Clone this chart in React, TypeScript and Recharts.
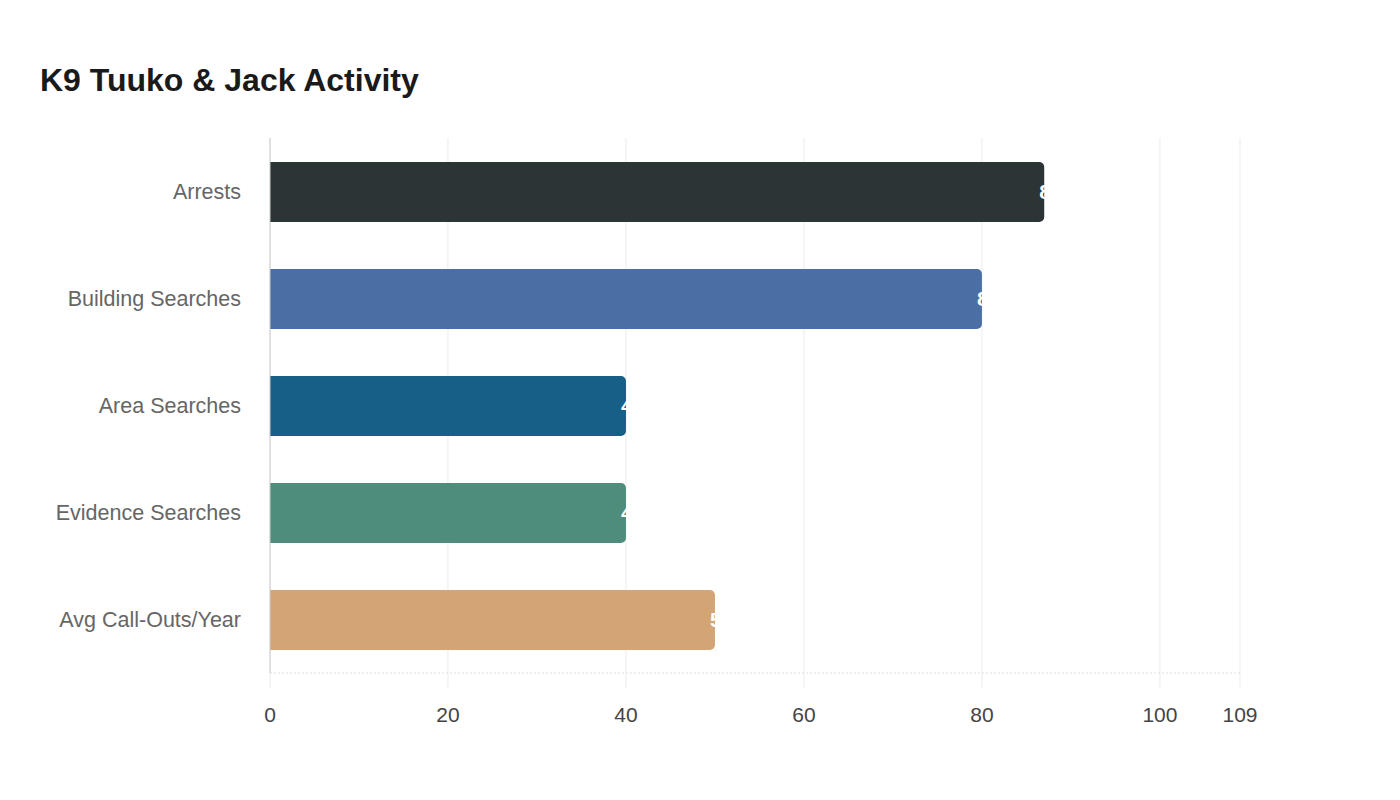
import React from "react";
import { BarChart, Bar, XAxis, YAxis, CartesianGrid, Cell, LabelList } from "recharts";

const categories = ["Arrests", "Building Searches", "Area Searches", "Evidence Searches", "Avg Call-Outs/Year"];
const values = [87, 80, 40, 40, 50];
const colors = ["#2d3436", "#4a6fa5", "#185f87", "#4e8d7c", "#d4a574"];
const xTicks = [0, 20, 40, 60, 80, 100, 109];

const data = categories.map((name, i) => ({ name, value: values[i] }));

export default function App() {
  return (
    <div style={{ position: "absolute", left: 0, top: 0, width: 1400, height: 800, background: "#fff", fontFamily: "'Liberation Sans', Arial, sans-serif" }}>
      <div style={{ position: "absolute", left: 40, top: 62, fontSize: 32, fontWeight: 700, color: "#1a1a1a", lineHeight: "36px", whiteSpace: "nowrap" }}>
        K9 Tuuko &amp; Jack Activity
      </div>
      <div style={{ position: "absolute", left: 0, top: 0 }}>
        <BarChart
          width={1400}
          height={800}
          data={data}
          layout="vertical"
          margin={{ top: 138, right: 160, bottom: 97, left: 0 }}
          barCategoryGap={47}
        >
          <CartesianGrid horizontal={false} stroke="#ebebeb" strokeWidth={1} />
          <XAxis
            type="number"
            domain={[0, 109]}
            ticks={xTicks}
            interval={0}
            axisLine={{ stroke: "#dddddd", strokeDasharray: "2 2" }}
            tickLine={{ stroke: "#ebebeb" }}
            tickSize={15}
            tickMargin={19}
            tick={{ fill: "#444444", fontSize: 21 }}
          />
          <YAxis
            type="category"
            dataKey="name"
            width={270}
            axisLine={{ stroke: "#cccccc" }}
            tickLine={false}
            tickSize={0}
            tickMargin={29}
            tick={{ fill: "#666666", fontSize: 21.5 }}
          />
          <Bar dataKey="value" barSize={60} radius={[0, 5, 5, 0]} isAnimationActive={false}>
            {data.map((d, i) => (
              <Cell key={d.name} fill={colors[i]} />
            ))}
            <LabelList dataKey="value" position="right" offset={-5} fill="#ffffff" fontSize={21} fontWeight={700} />
          </Bar>
        </BarChart>
      </div>
    </div>
  );
}
